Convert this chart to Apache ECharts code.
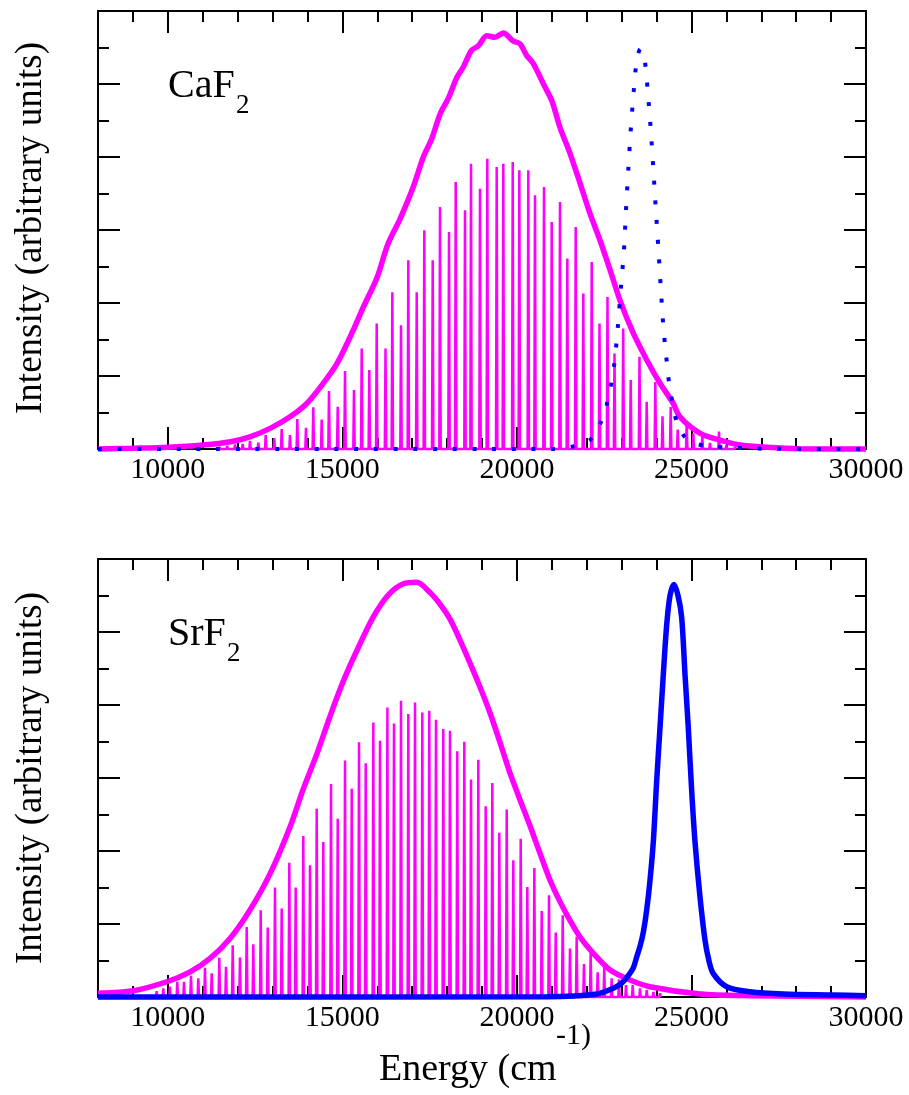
<!DOCTYPE html>
<html><head><meta charset="utf-8">
<script src="https://cdn.jsdelivr.net/npm/echarts@6/dist/echarts.min.js"></script>
<style>html,body{margin:0;padding:0;background:#fff}#c{width:909px;height:1095px}</style>
</head><body><div id="c"></div>
<script>
// ---------- data ----------
const xMajorTicks = [10000, 15000, 20000, 25000, 30000];

// CaF2 envelope (thick magenta)
const caEnvX = [8000, 9000, 10000, 11000, 11800, 12350, 12930, 13500, 13980, 14450, 14840, 15220, 15600, 16000, 16300, 16650, 17030, 17320, 17560, 17800, 18030, 18280, 18460, 18700, 18890, 19140, 19370, 19610, 19890, 20090, 20280, 20470, 20760, 21000, 21230, 21520, 21810, 22090, 22380, 22670, 22950, 23330, 23720, 24100, 24470, 24670, 25250, 25820, 26390, 27160, 28110, 30000];
const caEnvY = [0.0, 0.01, 0.024, 0.055, 0.10, 0.167, 0.283, 0.442, 0.624, 0.898, 1.166, 1.532, 1.942, 2.357, 2.80, 3.15, 3.59, 4.0, 4.25, 4.59, 4.80, 5.09, 5.23, 5.46, 5.52, 5.66, 5.64, 5.70, 5.59, 5.55, 5.39, 5.28, 5.00, 4.77, 4.41, 4.05, 3.64, 3.23, 2.86, 2.45, 2.04, 1.59, 1.22, 0.90, 0.63, 0.44, 0.214, 0.123, 0.055, 0.024, 0.004, 0.0];
// CaF2 stick lines
const caSpikeX = [11480, 11700, 11925, 12145, 12354, 12592, 12804, 13050, 13262, 13500, 13709, 13958, 14167, 14408, 14617, 14867, 15076, 15333, 15554, 15772, 15984, 16236, 16431, 16680, 16889, 17130, 17347, 17588, 17797, 18055, 18247, 18513, 18685, 18943, 19152, 19421, 19610, 19880, 20069, 20326, 20518, 20776, 20997, 21234, 21444, 21684, 21902, 22143, 22366, 22595, 22796, 23045, 23260, 23512, 23718, 23965, 24171, 24405, 24606, 24864, 25053, 25311, 25531, 25789, 26000, 26250];
const caSpikeH = [0.03, 0.04, 0.064, 0.068, 0.113, 0.086, 0.192, 0.146, 0.274, 0.192, 0.410, 0.292, 0.570, 0.403, 0.793, 0.579, 1.067, 0.807, 1.378, 1.081, 1.719, 1.378, 2.148, 1.696, 2.585, 2.148, 2.996, 2.585, 3.315, 2.973, 3.657, 3.269, 3.908, 3.566, 3.976, 3.862, 3.908, 3.930, 3.817, 3.817, 3.475, 3.59, 3.109, 3.383, 2.608, 3.041, 2.129, 2.562, 1.72, 2.083, 1.309, 1.651, 0.944, 1.262, 0.647, 0.916, 0.447, 0.574, 0.268, 0.372, 0.214, 0.192, 0.082, 0.239, 0.05, 0.03];
// CaF2 dotted blue curve
const caBlueX = [8000, 21000, 21570, 22090, 22380, 22570, 22780, 22890, 22980, 23070, 23125, 23190, 23260, 23346, 23440, 23541, 23640, 23747, 23833, 23908, 23977, 24051, 24120, 24194, 24270, 24366, 24463, 24595, 24893, 25417, 25970, 27000, 30000];
const caBlueY = [0, 0, 0.03, 0.12, 0.34, 0.60, 1.13, 1.67, 2.21, 2.75, 3.28, 3.82, 4.36, 4.90, 5.35, 5.48, 5.40, 4.91, 4.38, 3.84, 3.30, 2.76, 2.22, 1.68, 1.30, 0.876, 0.615, 0.351, 0.123, 0.041, 0.023, 0.005, 0];

// SrF2 envelope
const srEnvX = [8000, 9010, 9970, 10640, 11210, 11780, 12350, 12930, 13500, 13880, 14270, 14650, 15030, 15410, 15890, 16320, 16750, 17130, 17510, 17800, 18080, 18370, 18660, 18940, 19230, 19520, 19800, 20090, 20380, 20660, 20950, 21230, 21520, 21810, 22190, 22670, 23240, 23810, 25250, 26680, 30000];
const srEnvY = [0.05, 0.086, 0.209, 0.345, 0.528, 0.801, 1.189, 1.69, 2.33, 2.85, 3.33, 3.85, 4.33, 4.74, 5.21, 5.51, 5.66, 5.68, 5.54, 5.38, 5.18, 4.89, 4.57, 4.25, 3.89, 3.48, 3.07, 2.70, 2.34, 1.97, 1.60, 1.31, 1.05, 0.82, 0.597, 0.369, 0.232, 0.141, 0.041, 0.018, 0.0];
// SrF2 stick lines
const srSpikeX = [9680, 9871, 10062, 10272, 10464, 10664, 10873, 11065, 11257, 11475, 11667, 11859, 12068, 12260, 12449, 12661, 12862, 13070, 13262, 13480, 13663, 13881, 14073, 14265, 14454, 14675, 14867, 15076, 15268, 15477, 15669, 15887, 16078, 16290, 16479, 16680, 16889, 17081, 17290, 17490, 17682, 17891, 18083, 18292, 18493, 18685, 18894, 19106, 19295, 19496, 19708, 19897, 20109, 20298, 20499, 20711, 20920, 21112, 21312, 21521, 21712, 21921, 22113, 22313, 22502, 22714, 22924, 23125, 23317, 23526, 23718, 23910, 24100];
const srSpikeH = [0.08, 0.119, 0.141, 0.209, 0.209, 0.291, 0.255, 0.400, 0.324, 0.537, 0.414, 0.710, 0.542, 0.960, 0.724, 1.189, 0.952, 1.499, 1.212, 1.840, 1.499, 2.204, 1.803, 2.578, 2.122, 2.919, 2.441, 3.238, 2.851, 3.488, 3.201, 3.761, 3.511, 3.966, 3.747, 4.057, 3.876, 4.034, 3.898, 3.921, 3.798, 3.671, 3.648, 3.365, 3.497, 2.978, 3.251, 2.613, 2.933, 2.250, 2.568, 1.872, 2.168, 1.507, 1.766, 1.179, 1.393, 0.884, 1.120, 0.665, 0.824, 0.451, 0.611, 0.337, 0.406, 0.255, 0.242, 0.164, 0.164, 0.119, 0.096, 0.07, 0.05];
// SrF2 solid blue curve
const srBlueX = [8000, 20850, 22290, 22760, 23000, 23200, 23335, 23432, 23530, 23622, 23720, 23813, 23908, 24004, 24099, 24194, 24291, 24386, 24500, 24614, 24720, 24815, 24909, 25007, 25101, 25245, 25388, 25500, 25626, 26009, 26677, 27631, 29063, 30000];
const srBlueY = [0, 0.004, 0.041, 0.12, 0.19, 0.30, 0.40, 0.55, 0.70, 0.89, 1.2, 1.6, 2.13, 2.96, 3.69, 4.42, 5.1, 5.5, 5.65, 5.5, 5.2, 4.42, 3.69, 2.82, 2.13, 1.37, 0.78, 0.5, 0.32, 0.141, 0.073, 0.041, 0.027, 0.018];

// ---------- helpers ----------
const FONT = '"Liberation Serif", "Times New Roman", serif';
const MAG = '#ff00ff', BLUE = '#0000ff';
function zip(xs, ys) { return xs.map((x, i) => [x, ys[i]]); }
function spikes(xs, hs, hw) {
  const out = [];
  xs.forEach((x, i) => { out.push([x - hw, 0], [x, hs[i]], [x + hw, 0]); });
  return out;
}

const gridDefs = [
  { left: 98, top: 11, width: 768, height: 438 },
  { left: 98, top: 559, width: 768, height: 438 }
];
const lineSt = { color: '#000', width: 2 };

function makeX(gi) {
  const base = { type: 'value', gridIndex: gi, min: 8000, max: 30000, splitLine: { show: false } };
  const major = (pos, labels) => Object.assign({}, base, {
    position: pos,
    axisLine: { show: true, onZero: false, lineStyle: lineSt },
    axisTick: { show: true, inside: true, length: 22, lineStyle: lineSt, customValues: xMajorTicks },
    axisLabel: labels ? { show: true, customValues: xMajorTicks, formatter: (v) => String(v), color: '#000', fontFamily: FONT, fontSize: 30, margin: 6 } : { show: false }
  });
  const minor = (pos) => Object.assign({}, base, {
    position: pos, interval: 1000,
    axisLine: { show: false, onZero: false },
    axisTick: { show: true, inside: true, length: 11, lineStyle: lineSt },
    axisLabel: { show: false }
  });
  return [major('bottom', true), minor('bottom'), major('top', false), minor('top')];
}
function makeY(gi) {
  const y = (pos) => ({
    type: 'value', gridIndex: gi, position: pos, min: 0, max: 6, interval: 1,
    splitLine: { show: false },
    axisLine: { show: true, onZero: false, lineStyle: lineSt },
    axisTick: { show: true, inside: true, length: 22, lineStyle: lineSt },
    minorTick: { show: true, splitNumber: 2, length: 11, lineStyle: lineSt },
    axisLabel: { show: false }
  });
  return [y('left'), y('right')];
}

function lineSeries(xi, yi, data, color, width, type, smooth) {
  return {
    type: 'line', xAxisIndex: xi, yAxisIndex: yi, data: data, showSymbol: false, symbol: 'none',
    smooth: smooth, clip: false, silent: true,
    lineStyle: { color: color, width: width, type: type || 'solid', cap: 'butt' }
  };
}

function txt(x, y, text, size, rot) {
  const el = { type: 'text', x: x, y: y, style: { text: text, x: 0, y: 0, font: size + 'px ' + FONT, fill: '#000',
    align: rot ? 'center' : 'left', verticalAlign: 'middle', textAlign: rot ? 'center' : 'left', textVerticalAlign: 'middle' } };
  if (rot) el.rotation = rot;
  return el;
}

const chart = echarts.init(document.getElementById('c'), null, { renderer: 'canvas' });
chart.setOption({
  animation: false,
  backgroundColor: '#fff',
  grid: gridDefs,
  xAxis: makeX(0).concat(makeX(1)),
  yAxis: makeY(0).concat(makeY(1)),
  series: [
    lineSeries(0, 0, spikes(caSpikeX, caSpikeH, 20), MAG, 2.5, 'solid', false),
    lineSeries(0, 0, zip(caEnvX, caEnvY), MAG, 5.5, 'solid', 0.3),
    lineSeries(0, 0, zip(caBlueX, caBlueY), BLUE, 4, [4, 15.7], 0.3),
    lineSeries(4, 2, spikes(srSpikeX, srSpikeH, 20), MAG, 2.5, 'solid', false),
    lineSeries(4, 2, zip(srEnvX, srEnvY), MAG, 5.5, 'solid', 0.3),
    lineSeries(4, 2, zip(srBlueX, srBlueY), BLUE, 5.5, 'solid', 0.3)
  ],
  graphic: [
    txt(31, 228, 'Intensity (arbitrary units)', 37, Math.PI / 2),
    txt(31, 778, 'Intensity (arbitrary units)', 37, Math.PI / 2),
    txt(379, 1070, 'Energy (cm', 38),
    txt(556, 1036, '-1)', 30),
    txt(168, 86, 'CaF', 40),
    txt(236, 106, '2', 27),
    txt(168, 634, 'SrF', 40),
    txt(227, 654, '2', 27)
  ]
});
</script>
</body></html>
